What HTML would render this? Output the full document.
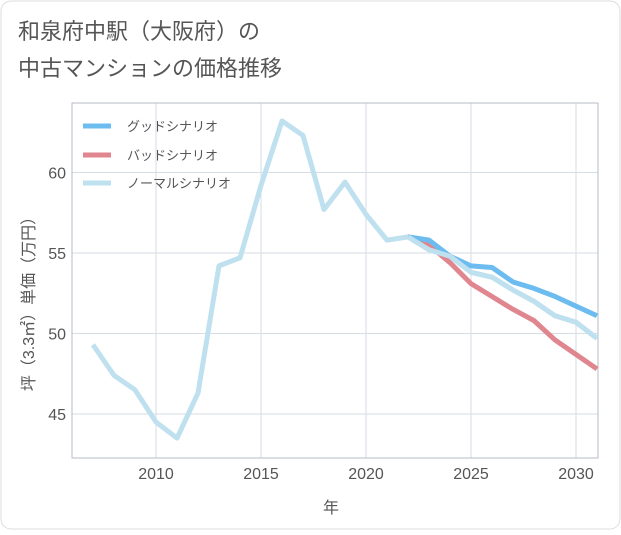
<!DOCTYPE html>
<html><head><meta charset="utf-8"><style>
body{margin:0;background:#fff;}
svg text{font-family:"Liberation Sans","Noto Sans CJK JP",sans-serif;}
</style></head><body>
<svg width="621" height="530" xmlns="http://www.w3.org/2000/svg">
<rect x="1" y="1" width="619" height="528" rx="10" fill="#fff" stroke="#ddd"/>
<text x="18" y="39" font-size="22" fill="#555">和泉府中駅（大阪府）の</text>
<text x="18" y="76" font-size="22" fill="#555">中古マンションの価格推移</text>
<g id="grid"></g>
<rect x="72" y="103" width="526" height="355" fill="none" stroke="#b4bcc4"/>
<g id="series"></g>
<g id="axes"></g>
<text x="331" y="513" font-size="16" fill="#555" text-anchor="middle">年</text>
<text transform="translate(34,300) rotate(-90)" font-size="16" fill="#555" text-anchor="middle">坪（3.3㎡）単価（万円）</text>
<g>
<line x1="83" y1="126" x2="111" y2="126" stroke="#6cbcf0" stroke-width="5"/>
<text x="127" y="131" font-size="13" fill="#555">グッドシナリオ</text>
<line x1="83" y1="155" x2="111" y2="155" stroke="#e0868f" stroke-width="5"/>
<text x="127" y="160" font-size="13" fill="#555">バッドシナリオ</text>
<line x1="83" y1="183" x2="111" y2="183" stroke="#bfe0ee" stroke-width="5"/>
<text x="127" y="188" font-size="13" fill="#555">ノーマルシナリオ</text>
</g>
</svg>
<script>
const normalYears=[2007,2008,2009,2010,2011,2012,2013,2014,2015,2016,2017,2018,2019,2020,2021,2022,2023,2024,2025,2026,2027,2028,2029,2030,2031];
const normalValues=[49.3,47.4,46.5,44.5,43.5,46.3,54.2,54.7,59.2,63.2,62.3,57.7,59.4,57.4,55.8,56.0,55.2,54.8,53.8,53.5,52.7,52.0,51.1,50.7,49.7];
const forecastYears=[2022,2023,2024,2025,2026,2027,2028,2029,2030,2031];
const goodValues=[56.0,55.8,54.8,54.2,54.1,53.2,52.8,52.3,51.7,51.1];
const badValues=[56.0,55.5,54.4,53.1,52.3,51.5,50.8,49.6,48.7,47.8];
const xTicks=[2010,2015,2020,2025,2030];
const yTicks=[45,50,55,60];
const NS='http://www.w3.org/2000/svg';
const xs=y=>156+(y-2010)*21;
const ys=v=>414-(v-45)*16.1;
const grid=document.getElementById('grid'),axes=document.getElementById('axes'),series=document.getElementById('series');
function mk(tag,attrs,parent){const e=document.createElementNS(NS,tag);for(const k in attrs)e.setAttribute(k,attrs[k]);parent.appendChild(e);return e;}
xTicks.forEach(t=>{
 const l=mk('line',{x1:xs(t),x2:xs(t),y1:103,y2:458,stroke:'#d5dde5'},grid);
 
 
 const tx=mk('text',{x:xs(t),y:479,'font-size':16,fill:'#555','text-anchor':'middle'},axes);
 tx.textContent=t;
 
 
});
yTicks.forEach(t=>{
 const l=mk('line',{x1:72,x2:598,y1:ys(t),y2:ys(t),stroke:'#d5dde5'},grid);
 
 
 const tx=mk('text',{x:66,y:ys(t)+6,'font-size':16,fill:'#555','text-anchor':'end'},axes);
 tx.textContent=t;
 
 
});
function line(years,vals,color,name){
 const p=mk('polyline',{points:years.map((y,i)=>xs(y)+','+ys(vals[i])).join(' '),fill:'none',stroke:color,'stroke-width':5,'stroke-linejoin':'round'},series);
 
 
}
line(normalYears,normalValues,'#bfe0ee','normal-line');
line(forecastYears,badValues,'#e0868f','bad-line');
line(forecastYears,goodValues,'#6cbcf0','good-line');
line(forecastYears,normalValues.slice(15),'#bfe0ee','normal-forecast-line');
</script>
</body></html>
